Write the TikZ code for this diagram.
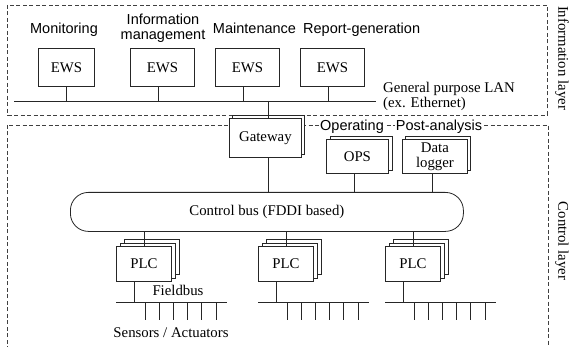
\documentclass[tikz,border=0pt]{standalone}
\usepackage{fontspec}
\setmainfont{Liberation Serif}
\setsansfont{Liberation Sans}
\begin{document}
\begin{tikzpicture}[x=1pt,y=-1pt,
  every node/.style={font=\fontsize{14.8}{15}\selectfont, inner sep=0pt},
  sans/.style={font=\sffamily\fontsize{14.5}{16}\selectfont},
  ln/.style={line width=0.8pt, draw=black!85},
  box/.style={ln, fill=white, rectangle, anchor=north west},
  layer/.style={line width=0.6pt, draw=black!75, dash pattern=on 4pt off 2.5pt},
  tick/.style={ln}
]
\useasboundingbox (0,0) rectangle (569,347);

% layers
\draw[layer] (7,5) rectangle (547,115);
\coordinate (clBL) at (7,350);
\coordinate (clBR) at (548,350);
\draw[layer] (clBL) -- (7,125) -- (548,125) -- (clBR);
\node[rotate=-90] (infolayer) at (562,58) {Information layer};
\node[rotate=-90] (ctrllayer) at (562,241) {Control layer};

% top labels
\node[sans, anchor=base] (lmon) at (64,34) {Monitoring};
\node[sans, anchor=base] (linf1) at (163,25) {Information};
\node[sans, anchor=base] (linf2) at (163,40) {management};
\node[sans, anchor=base] (lmain) at (254.5,34) {Maintenance};
\node[sans, anchor=base west] (lrep) at (303,34) {Report-generation};

% EWS boxes
\node[box, minimum width=56, minimum height=38] (ews1) at (38,48) {EWS};
\node[box, minimum width=64, minimum height=38] (ews2) at (130,48) {EWS};
\node[box, minimum width=64, minimum height=38] (ews3) at (215,48) {EWS};
\node[box, minimum width=64, minimum height=38] (ews4) at (300,48) {EWS};

% LAN
\coordinate (lanL) at (14,101);
\coordinate (lanR) at (376,101);
\draw[ln] (lanL) -- (lanR);
\draw[ln] (ews1.south) -- (ews1.south |- lanL);
\draw[ln] ([xshift=-4]ews2.south) -- ([xshift=-4]ews2.south |- lanL);
\draw[ln] ([xshift=-4]ews3.south) -- ([xshift=-4]ews3.south |- lanL);
\draw[ln] ([xshift=-4]ews4.south) -- ([xshift=-4]ews4.south |- lanL);
\node[anchor=base west] (llan1) at (383,93) {General purpose LAN};
\node[anchor=base west] (llan2) at (383,108) {(ex. Ethernet)};

% operating / post-analysis labels on the dashed line
\node[sans, anchor=base, fill=white, inner xsep=1pt, inner ysep=1pt] (lop) at (352,131) {Operating};
\node[sans, anchor=base, fill=white, inner xsep=1pt, inner ysep=1pt] (lpost) at (439,131) {Post-analysis};

% gateway
\node[box, minimum width=72, minimum height=39] (gwb) at (232,115) {};
\node[box, minimum width=72, minimum height=39] (gw) at (229,118) {Gateway};

% OPS and data logger
\node[box, minimum width=62, minimum height=34] (opsb) at (330,136) {};
\node[box, minimum width=62, minimum height=34] (ops) at (326,139) {OPS};
\node[box, minimum width=65, minimum height=34] (dlb) at (405,136) {};
\node[box, minimum width=65, minimum height=34, align=center] (dl) at (402,139) {Data\\logger};

% control bus
\node[box, rounded corners=18, minimum width=393, minimum height=39] (bus) at (70,192) {Control bus (FDDI based)};

\draw[ln] ([xshift=3]gw.north |- lanL) -- ([xshift=3]gw.north);
\draw[ln] ([xshift=3]gw.south) -- ([xshift=3]gw.south |- bus.north);
\draw[ln] ([xshift=-3]ops.south) -- ([xshift=-3]ops.south |- bus.north);
\draw[ln] ([xshift=-3]dl.south) -- ([xshift=-3]dl.south |- bus.north);

% PLCs
\foreach \i/\px in {1/116, 2/258, 3/385} {
  \node[box, minimum width=55, minimum height=35] (plc\i c) at (\px+8,239) {};
  \node[box, minimum width=55, minimum height=35] (plc\i b) at (\px+4,242.5) {};
  \node[box, minimum width=55, minimum height=35] (plc\i) at (\px,246) {PLC};
  \draw[ln] (plc\i.north |- bus.south) -- (plc\i.north);
  \coordinate (fb\i L) at (\px,302);
  \coordinate (fb\i R) at (\px+111,302);
  \draw[ln] (fb\i L) -- (fb\i R);
  \draw[ln] ([xshift=-9.5]plc\i.south) -- ([xshift=-9.5]plc\i.south |- fb\i L);
  \foreach \k in {0,...,5} {
    \draw[tick] ([xshift=29+14.2*\k]fb\i L) -- ++(0,18);
  }
}

\node[anchor=base] (lfb) at (178,295) {Fieldbus};
\node[anchor=base] (lsa) at (171,337) {Sensors / Actuators};
\end{tikzpicture}
\end{document}
